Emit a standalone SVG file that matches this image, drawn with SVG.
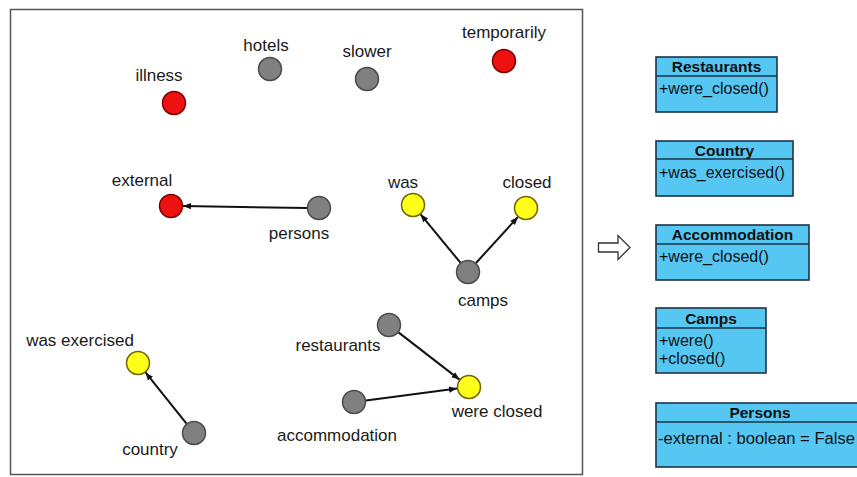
<svg xmlns="http://www.w3.org/2000/svg" width="857" height="477" viewBox="0 0 857 477">
<style>
.lbl{font-family:"Liberation Sans",Arial,sans-serif;font-size:17px;fill:#1a1a1a;text-anchor:middle}
.gray{fill:#808080;stroke:#4a4a4a;stroke-width:1.5}
.red{fill:#ee1111;stroke:#7a0000;stroke-width:1.5}
.yel{fill:#ffff1a;stroke:#6e6400;stroke-width:1.5}
.edge{stroke:#111;stroke-width:2;fill:none;marker-end:url(#ah)}
.box{fill:#56c6f2;stroke:#1b3446;stroke-width:1.6}
.ttl{font-family:"Liberation Sans",Arial,sans-serif;font-size:15.5px;font-weight:bold;fill:#111;text-anchor:middle}
.mth{font-family:"Liberation Sans",Arial,sans-serif;font-size:16px;fill:#111}
</style>
<defs>
<marker id="ah" markerUnits="userSpaceOnUse" markerWidth="10" markerHeight="10" refX="8" refY="4" orient="auto">
<path d="M0,0.8 L8,4 L0,7.2 Z" fill="#111"/>
</marker>
</defs>
<rect width="857" height="477" fill="#fff"/>
<rect x="10.5" y="9.5" width="572" height="465" fill="#fff" stroke="#555" stroke-width="1.5"/>

<g id="connectors">
<line class="edge" x1="307" y1="208" x2="183" y2="206"/>
<line class="edge" x1="460.4" y1="262.7" x2="420.6" y2="214.3"/>
<line class="edge" x1="476" y1="263" x2="518" y2="216.9"/>
<line class="edge" x1="398.5" y1="332.4" x2="459.5" y2="379.6"/>
<line class="edge" x1="366" y1="400.5" x2="457" y2="388.5"/>
<line class="edge" x1="186.5" y1="423.6" x2="145.5" y2="372.4"/>
</g>

<g id="hotels"><circle class="gray" cx="270" cy="69" r="11.5"/><text class="lbl" x="266" y="51">hotels</text></g>
<g id="illness"><circle class="red" cx="174" cy="103" r="11.5"/><text class="lbl" x="159" y="81">illness</text></g>
<g id="slower"><circle class="gray" cx="367" cy="79" r="11.5"/><text class="lbl" x="367" y="57">slower</text></g>
<g id="temporarily"><circle class="red" cx="504" cy="61" r="11.5"/><text class="lbl" x="504" y="38">temporarily</text></g>
<g id="external"><circle class="red" cx="171" cy="206" r="11.5"/><text class="lbl" x="142" y="186">external</text></g>
<g id="persons"><circle class="gray" cx="319" cy="208" r="11.5"/><text class="lbl" x="299" y="239">persons</text></g>
<g id="was"><circle class="yel" cx="413" cy="205" r="11.5"/><text class="lbl" x="403" y="188">was</text></g>
<g id="closed"><circle class="yel" cx="526" cy="208" r="11.5"/><text class="lbl" x="527" y="188">closed</text></g>
<g id="camps"><circle class="gray" cx="468" cy="272" r="11.5"/><text class="lbl" x="483" y="306">camps</text></g>
<g id="restaurants"><circle class="gray" cx="389" cy="325" r="11.5"/><text class="lbl" x="338" y="351">restaurants</text></g>
<g id="were_closed"><circle class="yel" cx="469" cy="387" r="11.5"/><text class="lbl" x="497" y="417">were closed</text></g>
<g id="accommodation"><circle class="gray" cx="354" cy="402" r="11.5"/><text class="lbl" x="337" y="441">accommodation</text></g>
<g id="was_exercised"><circle class="yel" cx="138" cy="363" r="11.5"/><text class="lbl" x="80" y="346">was exercised</text></g>
<g id="country"><circle class="gray" cx="194" cy="433" r="11.5"/><text class="lbl" x="150" y="455">country</text></g>

<g id="transform_arrow">
<path d="M598.5,243 L618,243 L618,235.5 L630,247.5 L618,259.5 L618,252 L598.5,252 Z" fill="#fff" stroke="#333" stroke-width="1.3"/>
</g>

<g id="uml_restaurants">
<rect class="box" x="656" y="57" width="121" height="55"/>
<line class="box" x1="656" y1="76" x2="777" y2="76"/>
<text class="ttl" x="716.5" y="72">Restaurants</text>
<text class="mth" x="659" y="94">+were_closed()</text>
</g>
<g id="uml_country">
<rect class="box" x="656" y="141" width="137" height="55"/>
<line class="box" x1="656" y1="159" x2="793" y2="159"/>
<text class="ttl" x="724.5" y="156">Country</text>
<text class="mth" x="659" y="178">+was_exercised()</text>
</g>
<g id="uml_accommodation">
<rect class="box" x="656" y="225" width="153" height="55"/>
<line class="box" x1="656" y1="244" x2="809" y2="244"/>
<text class="ttl" x="732.5" y="240">Accommodation</text>
<text class="mth" x="659" y="262">+were_closed()</text>
</g>
<g id="uml_camps">
<rect class="box" x="656" y="308" width="110" height="65"/>
<line class="box" x1="656" y1="328" x2="766" y2="328"/>
<text class="ttl" x="711" y="324">Camps</text>
<text class="mth" x="659" y="346">+were()</text>
<text class="mth" x="659" y="364">+closed()</text>
</g>
<g id="uml_persons">
<rect class="box" x="656" y="403" width="210" height="64"/>
<line class="box" x1="656" y1="422" x2="866" y2="422"/>
<text class="ttl" x="760" y="418">Persons</text>
<text class="mth" x="658" y="444" textLength="197" lengthAdjust="spacingAndGlyphs">-external : boolean = False</text>
</g>
</svg>
